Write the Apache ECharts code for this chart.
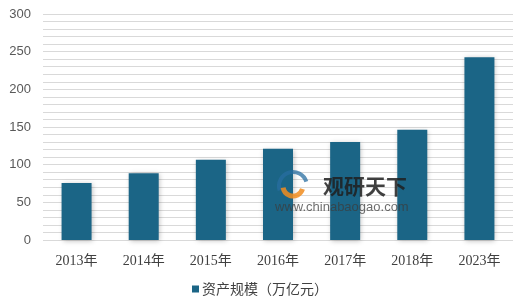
<!DOCTYPE html>
<html><head><meta charset="utf-8">
<script src="https://cdn.jsdelivr.net/npm/echarts@6/dist/echarts.min.js"></script>
<style>html,body{margin:0;padding:0;background:#fff}#c{width:520px;height:306px}</style>
</head><body><div id="c"></div>
<script>
const categories = ['2013年','2014年','2015年','2016年','2017年','2018年','2023年'];
const assetScale = [75.5, 88.5, 106.5, 121, 130, 146.5, 242.5];
const seriesName = '资产规模（万亿元）';
const yTicks = [0, 50, 100, 150, 200, 250, 300];

const chart = echarts.init(document.getElementById('c'), null, {renderer:'canvas'});
chart.setOption({
  animation:false,
  backgroundColor:'#fff',
  grid:{left:43, right:7, top:14, bottom:66},
  legend:{
    data:[seriesName], bottom:5, left:'center', itemWidth:7, itemHeight:7, itemGap:4,
    icon:'rect',
    textStyle:{fontSize:14, color:'#404040', fontFamily:'"Noto Sans CJK SC", sans-serif', padding:[0,0,0,-2]}
  },
  xAxis:{
    type:'category', data:categories,
    axisLine:{show:false}, axisTick:{show:false},
    axisLabel:{fontSize:14, color:'#404040', margin:14, fontFamily:'"Liberation Serif", "Noto Sans CJK SC", serif'}
  },
  yAxis:{
    type:'value', min:0, max:300, interval:10,
    axisLine:{show:false}, axisTick:{show:false},
    splitLine:{lineStyle:{color:'#d9d9d9', width:1}},
    axisLabel:{fontSize:13, color:'#595959', margin:12, fontFamily:'"Liberation Sans", Arial, sans-serif',
      formatter:function(v){return yTicks.indexOf(v)>=0 ? String(v) : '';}}
  },
  series:[{
    name:seriesName, type:'bar', data:assetScale, barWidth:30,
    itemStyle:{color:'#1b6586', shadowColor:'rgba(0,0,0,0.25)', shadowBlur:5, shadowOffsetX:1, shadowOffsetY:1}
  }],
  graphic:[
    {type:'arc', shape:{cx:293, cy:186, r:14, startAngle:Math.PI*0.9, endAngle:Math.PI*1.9}, style:{stroke:'rgba(40,110,160,0.75)', lineWidth:4, fill:null}, z:10},
    {type:'arc', shape:{cx:293, cy:186, r:10, startAngle:Math.PI*0.1, endAngle:Math.PI*0.95}, style:{stroke:'rgba(240,140,30,0.85)', lineWidth:5, fill:null}, z:10},
    {type:'text', left:323, top:176, style:{text:'观研天下', fontSize:21, fontWeight:'bold', fill:'rgba(30,30,30,0.85)', fontFamily:'"Noto Sans CJK SC", sans-serif'}, z:10},
    {type:'text', left:275, top:201, style:{text:'www.chinabaogao.com', fontSize:13, fill:'rgba(60,60,60,0.75)', fontFamily:'"Liberation Sans", Arial, sans-serif'}, z:10}
  ]
});
</script></body></html>
